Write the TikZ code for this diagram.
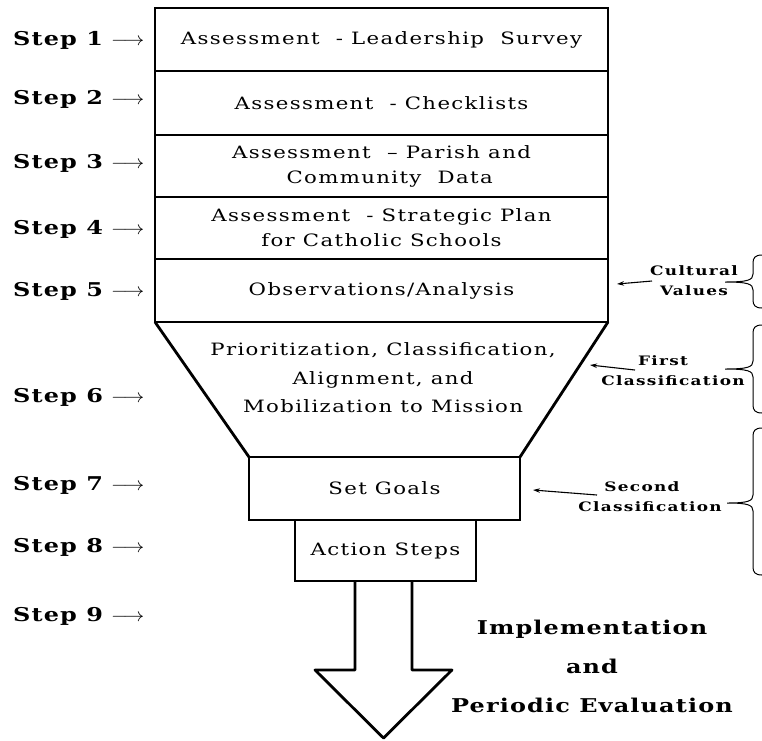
\documentclass[tikz,border=0pt]{standalone}
\usepackage{graphicx}
\usepackage{fontspec}
\setmainfont{DejaVu Serif}
\newfontfamily\bodyface[FakeStretch=1.25,LetterSpace=8]{DejaVu Serif}
\newfontfamily\boldface[FakeStretch=1.26,LetterSpace=6]{DejaVu Serif}
\newfontfamily\sideface[FakeStretch=1.3,LetterSpace=10]{DejaVu Serif}
\usetikzlibrary{arrows.meta,calc}
\newcommand{\bodyfnt}{\bodyface\fontsize{17}{25}\selectfont}
\newcommand{\stepfnt}{\boldface\fontsize{19}{22}\selectfont\bfseries}
\newcommand{\smallfnt}{\sideface\fontsize{13}{20}\selectfont\bfseries}
\newcommand{\steparrow}{\hspace{8pt}\scalebox{1.2}[1.1]{$\longrightarrow$}}
\begin{document}
\begin{tikzpicture}[x=1pt,y=-1pt,
  box/.style={draw, line width=2.8pt, rectangle, inner sep=0pt, font=\bodyfnt, align=center},
  bodytext/.style={font=\bodyfnt, align=center, inner sep=0pt},
  steplbl/.style={font=\stepfnt, anchor=west, inner sep=0pt},
  sidelbl/.style={font=\smallfnt, align=center, inner sep=0pt},
  biglbl/.style={font=\boldface\fontsize{19}{39}\selectfont\bfseries, align=center, inner sep=0pt},
  thinarrow/.style={line width=1.1pt, -{Stealth[length=7pt,width=4.5pt]}},
  bracestyle/.style={line width=1pt},
  outline/.style={line width=2.8pt, line join=round}]
\fill[white] (0,0) rectangle (762,740);
\useasboundingbox (0,0) rectangle (762,740);

% stacked boxes
\node[box, minimum width=453, minimum height=63] (b1) at (381.5,39.5) {Assessment \ - Leadership \ Survey};
\node[box, minimum width=453, minimum height=64] (b2) at (381.5,103) {Assessment \ - Checklists};
\node[box, minimum width=453, minimum height=62] (b3) at (381.5,166) {Assessment \ – Parish and\\ \ \ Community \ Data};
\node[box, minimum width=453, minimum height=62] (b4) at (381.5,228) {Assessment \ - Strategic Plan\\for Catholic Schools};
\node[box, minimum width=453, minimum height=63] (b5) at (381.5,290.5) {Observations/Analysis};

% funnel
\coordinate (t1) at (155,322);
\coordinate (t2) at (608,322);
\coordinate (t3) at (520,457);
\coordinate (t4) at (249,457);
\draw[outline] (t1) -- (t4) (t2) -- (t3);
\node[bodytext, font=\bodyface\fontsize{17}{28.5}\selectfont] (fun) at (383,378) {Prioritization, Classification,\\Alignment, and\\Mobilization to Mission};

\node[box, minimum width=271, minimum height=63] (goals) at (384.5,488.5) {Set Goals};
\node[box, minimum width=181, minimum height=61] (act) at (385.5,550.5) {Action Steps};

% big arrow
\coordinate (a1) at (355,581);
\coordinate (a2) at (355,670);
\coordinate (a3) at (315,670);
\coordinate (a4) at (383.5,738);
\coordinate (a5) at (452,670);
\coordinate (a6) at (412,670);
\coordinate (a7) at (412,581);
\draw[outline] (a1) -- (a2) -- (a3) -- (a4) -- (a5) -- (a6) -- (a7);

% step labels
\node[steplbl] (s1) at (13,40) {Step 1\steparrow};
\node[steplbl] (s2) at (13,99) {Step 2\steparrow};
\node[steplbl] (s3) at (13,163) {Step 3\steparrow};
\node[steplbl] (s4) at (13,229) {Step 4\steparrow};
\node[steplbl] (s5) at (13,291) {Step 5\steparrow};
\node[steplbl] (s6) at (13,397) {Step 6\steparrow};
\node[steplbl] (s7) at (13,485) {Step 7\steparrow};
\node[steplbl] (s8) at (13,547) {Step 8\steparrow};
\node[steplbl] (s9) at (13,616) {Step 9\steparrow};

% side labels
\node[sidelbl] (cv) at (694,281) {Cultural\\Values};
\node[sidelbl] (fc) at (673,371) {\hspace*{-20pt}First\\Classification};
\node[sidelbl] (sc) at (650,497) {\hspace*{-16pt}Second\\Classification};
\coordinate (cvs) at (652,281);
\coordinate (cve) at (617,284);
\coordinate (fcs) at (635,370);
\coordinate (fce) at (590,365);
\coordinate (scs) at (597,495);
\coordinate (sce) at (533,490);
\draw[thinarrow] (cvs) -- (cve);
\draw[thinarrow] (fcs) -- (fce);
\draw[thinarrow] (scs) -- (sce);

% braces
\draw[bracestyle] (762,255) .. controls (755,255) and (753,258) .. (753,263) -- (753,274)
  .. controls (753,280) and (748,282) .. (725,282)
  .. controls (748,282) and (753,284) .. (753,290) -- (753,300)
  .. controls (753,305) and (755,308) .. (762,308);
\draw[bracestyle] (762,325) .. controls (755,325) and (753,328) .. (753,333) -- (753,361)
  .. controls (753,367) and (748,369) .. (725,369)
  .. controls (748,369) and (753,371) .. (753,377) -- (753,405)
  .. controls (753,410) and (755,413) .. (762,413);
\draw[bracestyle] (762,428) .. controls (755,428) and (753,431) .. (753,436) -- (753,495)
  .. controls (753,501) and (748,503) .. (727,503)
  .. controls (748,503) and (753,505) .. (753,511) -- (753,567)
  .. controls (753,572) and (755,575) .. (762,575);

% implementation text
\node[biglbl] (impl) at (592,666) {Implementation\\and\\Periodic Evaluation};
\end{tikzpicture}
\end{document}
